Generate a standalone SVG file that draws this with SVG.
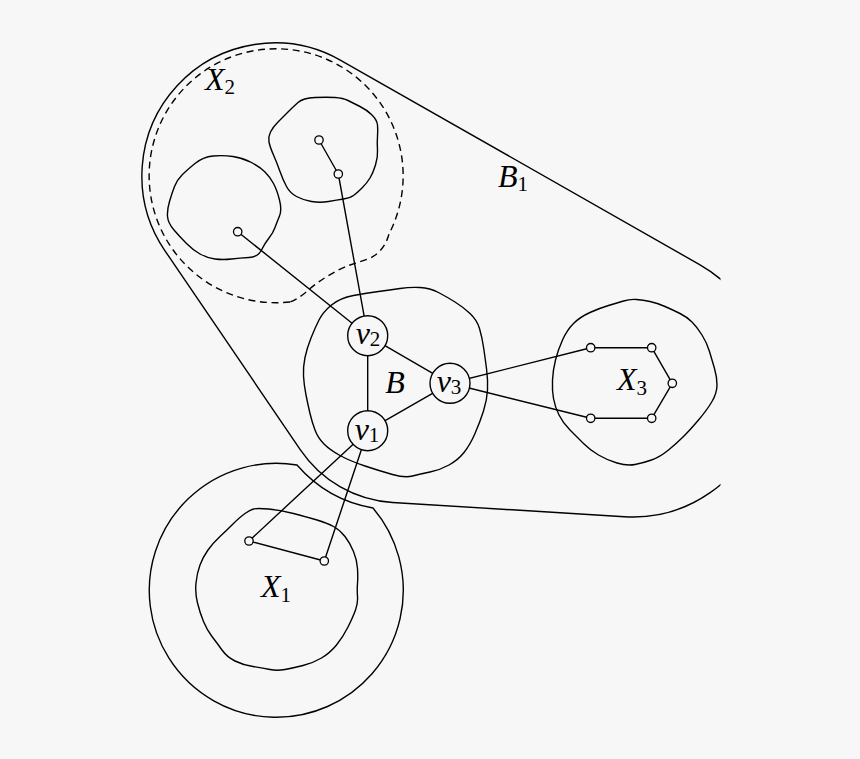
<svg xmlns="http://www.w3.org/2000/svg" width="860" height="759" viewBox="0 0 860 759">
<style>
.ln{fill:none;stroke:#000;stroke-width:1.4;stroke-linejoin:round;stroke-linecap:round}
.dash{fill:none;stroke:#000;stroke-width:1.4;stroke-dasharray:7 4.6}
.big{fill:#f7f7f7;stroke:#000;stroke-width:1.4}
.sm{fill:#f7f7f7;stroke:#000;stroke-width:1.3}
.lbl{font-family:"Liberation Serif","DejaVu Serif",serif;font-style:italic;font-size:32px;fill:#000;text-anchor:middle}
.sub{font-style:normal;font-size:21px}
</style>
<defs>
<clipPath id="clipR"><rect x="0" y="0" width="720.5" height="759"/></clipPath>
</defs>
<rect x="0" y="0" width="860" height="759" fill="#f7f7f7"/>

<g id="B1">
<path class="ln" clip-path="url(#clipR)" d="M340.7,60.3 L699.6,264.6 A135,135 0 0 1 624.4,516.7 L392.5,502.5 A120,120 0 0 1 300.4,449.9 L165,250.8 A133,133 0 0 1 340.7,60.3 Z"/>
<text class="lbl" x="513" y="187">B<tspan class="sub" dy="4">1</tspan></text>
</g>

<g id="X2">
<path class="dash" d="M290,302 A127,127 0 1 1 389,234 C386,245 380,254 368,259 L350,265 C336,270 318,281 305,293 C300,297 295,300 290,302"/>
<path class="ln" d="M298,102.5 Q303,98 315,97.5 Q327,97 335,97.5 Q343,98 348,100.5 Q353,103 360,106.5 Q367,110 372,115 Q377,120 377.5,125 Q378,130 377.5,136.5 Q377,143 377.5,150 Q378,157 375.5,165 Q373,173 370,178 Q367,183 362,188 Q357,193 353.5,195.5 Q350,198 343.5,199 Q337,200 328.5,201.5 Q320,203 311.5,201.5 Q303,200 296.5,196.5 Q290,193 286.5,186.5 Q283,180 280,171.5 Q277,163 273.5,155 Q270,147 269,142 Q268,137 270.5,132 Q273,127 278,122 Q283,117 288,112 Q293,107 298,102.5 Z"/>
<path class="ln" d="M195,163.5 Q203,157 213,156 Q223,155 233,156.5 Q243,158 251.5,162.5 Q260,167 265,172 Q270,177 273.5,183.5 Q277,190 279.5,200 Q282,210 279.5,216 Q277,222 275,227.5 Q273,233 269,238 Q265,243 261.5,250 Q258,257 249,257.5 Q240,258 231.5,259 Q223,260 215,259 Q207,258 200,254 Q193,250 186.5,243.5 Q180,237 174,230 Q168,223 167.5,216.5 Q167,210 169.5,201.5 Q172,193 174.5,186.5 Q177,180 182,175 Q187,170 195,163.5 Z"/>
<text class="lbl" x="220" y="90">X<tspan class="sub" dy="4">2</tspan></text>
</g>

<g id="B">
<path class="ln" d="M319,320 Q323,312 331.5,305 Q340,298 353.5,295.5 Q367,293 378.5,291.5 Q390,290 400,288.5 Q410,287 420,287.5 Q430,288 438.5,292.5 Q447,297 455,302 Q463,307 470,313.5 Q477,320 479.5,328.5 Q482,337 483.5,347 Q485,357 486.5,368.5 Q488,380 487.5,390 Q487,400 483.5,411 Q480,422 475,433.5 Q470,445 464,452.5 Q458,460 449,465 Q440,470 430,472 Q420,474 412.5,476 Q405,478 392.5,474.5 Q380,471 365,466 Q350,461 340,455.5 Q330,450 324,444 Q318,438 315,430 Q312,422 310,413.5 Q308,405 306,395 Q304,385 303.5,376 Q303,367 305,357.5 Q307,348 311,338 Q315,328 319,320 Z"/>
<text class="lbl" x="395" y="393">B</text>
</g>

<g id="X3">
<path class="ln" d="M623.5,301 Q630,299 636.5,299.5 Q643,300 650,301.5 Q657,303 665,306.5 Q673,310 680,313.5 Q687,317 692,322 Q697,327 702,335 Q707,343 709.5,351.5 Q712,360 714.5,368.5 Q717,377 717,385 Q717,393 712,401.5 Q707,410 698.5,420 Q690,430 683.5,436.5 Q677,443 668.5,450 Q660,457 651.5,460 Q643,463 635,464.5 Q627,466 617,463 Q607,460 598.5,455 Q590,450 583.5,443.5 Q577,437 570,430 Q563,423 559,415 Q555,407 553.5,398.5 Q552,390 552.5,380 Q553,370 555.5,360 Q558,350 562.5,340 Q567,330 573.5,323.5 Q580,317 590,312.5 Q600,308 608.5,305.5 Q617,303 623.5,301 Z"/>
<text class="lbl" x="632" y="390">X<tspan class="sub" dy="5">3</tspan></text>
</g>

<g id="X1">
<path class="ln" d="M373,508 A127,127 0 1 1 297,465 A130,130 0 0 0 373,508"/>
<path class="ln" d="M253.5,509 Q257,508 268.5,509 Q280,510 293.5,513.5 Q307,517 317,520 Q327,523 333.5,526.5 Q340,530 345,536.5 Q350,543 353.5,551.5 Q357,560 357.5,568.5 Q358,577 357.5,583.5 Q357,590 357.5,596.5 Q358,603 355.5,610 Q353,617 348,627 Q343,637 336.5,645 Q330,653 321.5,658 Q313,663 303,665.5 Q293,668 285,669.5 Q277,671 270,669.5 Q263,668 253,666.5 Q243,665 235,661 Q227,657 222,650 Q217,643 212,636.5 Q207,630 203.5,621.5 Q200,613 197.5,603 Q195,593 196,583 Q197,573 200,565 Q203,557 208,550 Q213,543 220,536.5 Q227,530 233.5,523.5 Q240,517 245,513.5 Q250,510 253.5,509 Z"/>
<text class="lbl" x="276" y="597">X<tspan class="sub" dy="5">1</tspan></text>
</g>

<g id="connectors" class="ln">
<line x1="367.7" y1="335.7" x2="367.7" y2="430.7"/>
<line x1="367.7" y1="335.7" x2="450" y2="383.3"/>
<line x1="367.7" y1="430.7" x2="450" y2="383.3"/>
<line x1="450" y1="383.3" x2="590.7" y2="347.7"/>
<line x1="450" y1="383.3" x2="590.7" y2="418.3"/>
<line x1="590.7" y1="347.7" x2="651.7" y2="347.7"/>
<line x1="651.7" y1="347.7" x2="672.3" y2="383.3"/>
<line x1="672.3" y1="383.3" x2="651.7" y2="418.3"/>
<line x1="651.7" y1="418.3" x2="590.7" y2="418.3"/>
<line x1="367.7" y1="335.7" x2="338.3" y2="174"/>
<line x1="338.3" y1="174" x2="319" y2="140"/>
<line x1="367.7" y1="335.7" x2="237.7" y2="231.7"/>
<line x1="367.7" y1="430.7" x2="249" y2="541"/>
<line x1="367.7" y1="430.7" x2="324.3" y2="561"/>
<line x1="249" y1="541" x2="324.3" y2="561"/>
</g>

<g id="v1"><circle class="big" cx="367.7" cy="430.7" r="20"/><text class="lbl" x="367" y="440">v<tspan class="sub" dy="2">1</tspan></text></g>
<g id="v2"><circle class="big" cx="367.7" cy="335.7" r="20"/><text class="lbl" x="368" y="344">v<tspan class="sub" dy="2">2</tspan></text></g>
<g id="v3"><circle class="big" cx="450" cy="383.3" r="20"/><text class="lbl" x="449" y="392">v<tspan class="sub" dy="2">3</tspan></text></g>

<g id="x3a"><circle class="sm" cx="590.7" cy="347.7" r="4.2"/></g>
<g id="x3b"><circle class="sm" cx="651.7" cy="347.7" r="4.2"/></g>
<g id="x3c"><circle class="sm" cx="672.3" cy="383.3" r="4.2"/></g>
<g id="x3d"><circle class="sm" cx="651.7" cy="418.3" r="4.2"/></g>
<g id="x3e"><circle class="sm" cx="590.7" cy="418.3" r="4.2"/></g>
<g id="x2a"><circle class="sm" cx="319" cy="140" r="4.2"/></g>
<g id="x2b"><circle class="sm" cx="338.3" cy="174" r="4.2"/></g>
<g id="x2c"><circle class="sm" cx="237.7" cy="231.7" r="4.2"/></g>
<g id="x1a"><circle class="sm" cx="249" cy="541" r="4.2"/></g>
<g id="x1b"><circle class="sm" cx="324.3" cy="561" r="4.2"/></g>
</svg>
